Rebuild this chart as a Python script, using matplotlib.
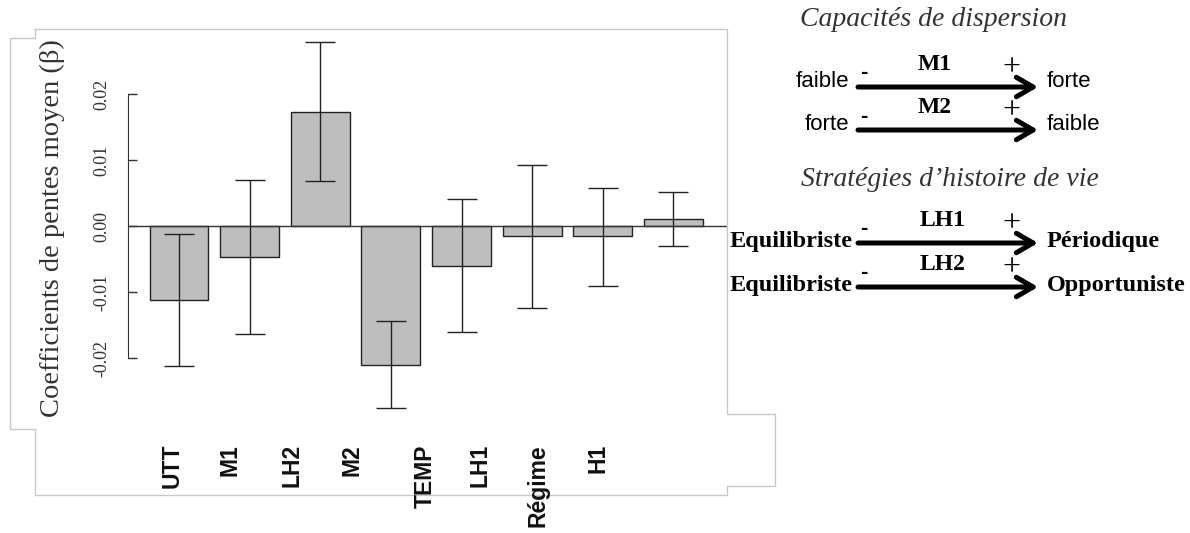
import matplotlib
matplotlib.use("Agg")
import matplotlib.pyplot as plt
from matplotlib.patches import FancyArrowPatch
from matplotlib.lines import Line2D

# données
variables = ["UTT", "M1", "LH2", "M2", "TEMP", "LH1", "Régime", "H1"]
beta = [-0.0112, -0.0047, 0.0173, -0.0211, -0.0060, -0.0015, -0.0015, 0.0011]
ic_bas = [-0.0212, -0.0163, 0.0068, -0.0276, -0.0160, -0.0124, -0.0091, -0.0030]
ic_haut = [-0.0012, 0.0070, 0.0279, -0.0144, 0.0041, 0.0092, 0.0058, 0.0052]
y_ticks = [-0.02, -0.01, 0.00, 0.01, 0.02]

W, H = 1190, 533
fig = plt.figure(figsize=(W / 100, H / 100), dpi=100)


def fx(px):
    return px / W


def fy(py):
    return 1 - py / H


SERIF = "Liberation Serif"
SANS = "Liberation Sans"

# cadre gris clair autour du graphique
cadre = [(35, 29), (727, 29), (727, 414), (775, 414), (775, 486), (727, 486),
         (727, 495), (35, 495), (35, 429), (10, 429), (10, 38), (35, 38), (35, 29)]
fig.add_artist(Line2D([fx(p[0]) for p in cadre], [fy(p[1]) for p in cadre],
                      transform=fig.transFigure, color="#c8c8c8", lw=1))

# graphique en barres
ax = fig.add_axes([fx(128), fy(420), fx(727) - fx(128), (420 - 29) / H])
ax.patch.set_alpha(0)
x = list(range(len(variables)))
yerr = [[b - lo for b, lo in zip(beta, ic_bas)], [hi - b for b, hi in zip(beta, ic_haut)]]
ax.bar(x, beta, width=0.835, color="#bebebe", edgecolor="#222222", linewidth=1, zorder=2)
ax.errorbar(x, beta, yerr=yerr, fmt="none", ecolor="#222222", elinewidth=1,
            capsize=10.5, capthick=1, zorder=3)
ax.axhline(0, color="#333333", lw=1, zorder=4)

ax.set_xlim(-0.722, 7.758)
ax.set_ylim(-0.02939, 0.02985)
for s in ["top", "right", "bottom"]:
    ax.spines[s].set_visible(False)
ax.spines["left"].set_bounds(y_ticks[0], y_ticks[-1])
ax.spines["left"].set_color("#333333")
ax.set_xticks([])
ax.set_yticks(y_ticks)
ax.set_yticklabels([f"{v:.2f}" for v in y_ticks], rotation=90, va="center",
                   fontfamily=SERIF, fontsize=13, color="#333333")
ax.tick_params(axis="y", direction="in", length=6.5, width=1, pad=13, color="#333333")

fig.text(fx(52), fy(228), "Coefficients de pentes moyen (β)", rotation=90,
         ha="center", va="center", fontfamily=SERIF, fontsize=20.5, color="#333333")

# étiquettes des variables (verticales)
lab_px = [172, 230, 292, 352, 425, 480, 538, 598]
for name, px in zip(variables, lab_px):
    fig.text(fx(px), fy(444), name, rotation=90, ha="center", va="top",
             fontfamily=SANS, fontweight="bold", fontsize=16.5, color="#111111")

# légende à droite
fig.text(fx(933), fy(20), "Capacités de dispersion", ha="center", va="center",
         fontfamily=SERIF, style="italic", fontsize=20, color="#333333")
fig.text(fx(950), fy(180), "Stratégies d\u2019histoire de vie", ha="center", va="center",
         fontfamily=SERIF, style="italic", fontsize=20, color="#333333")

lignes = [
    # gauche, droite, nom, police, y flèche, x du nom
    ("faible", "forte", "M1", "sans", 87, 935),
    ("forte", "faible", "M2", "sans", 130, 935),
    ("Equilibriste", "Périodique", "LH1", "serif", 243, 943),
    ("Equilibriste", "Opportuniste", "LH2", "serif", 287, 943),
]
for gauche, droite, nom, police, ya, xn in lignes:
    if police == "sans":
        kw = dict(fontfamily=SANS, fontsize=16)
        xg, dy = 849, -6
    else:
        kw = dict(fontfamily=SERIF, fontweight="bold", fontsize=17.5)
        xg, dy = 853, -2
    fig.text(fx(xg), fy(ya + dy), gauche, ha="right", va="center", color="black", **kw)
    fig.text(fx(1047), fy(ya + dy), droite, ha="left", va="center", color="black", **kw)
    fig.text(fx(xn), fy(ya - 22), nom, ha="center", va="center",
             fontfamily=SERIF, fontweight="bold", fontsize=17, color="black")
    fig.text(fx(864), fy(ya - 14), "-", ha="center", va="center",
             fontfamily=SANS, fontweight="bold", fontsize=16, color="black")
    fig.text(fx(1011), fy(ya - 19), "+", ha="center", va="center",
             fontfamily=SERIF, fontsize=23, color="black")
    fig.add_artist(FancyArrowPatch((fx(858), fy(ya)), (fx(1038), fy(ya)),
                                   transform=fig.transFigure,
                                   arrowstyle="->,head_length=12,head_width=7",
                                   mutation_scale=1, lw=3.6, color="black",
                                   shrinkA=0, shrinkB=0))

fig.savefig("out.png", dpi=100)
